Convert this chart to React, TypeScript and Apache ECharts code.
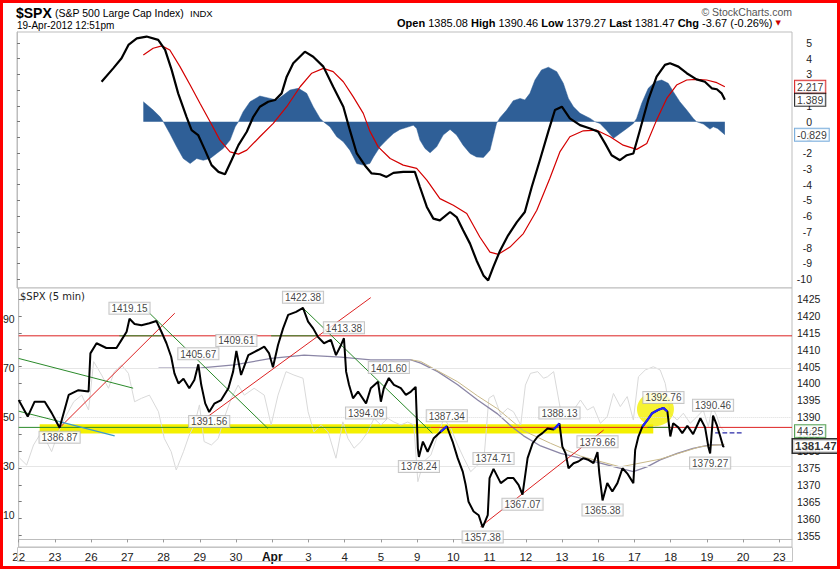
import React, { useEffect, useRef } from "react";
import * as echarts from "echarts";

const SANS = "'Liberation Sans', Arial, sans-serif";
const VERD = "'DejaVu Sans', Verdana, sans-serif";

// x values are trading-day indices (0 = Mar 22)
const DAY_LABELS = ["22", "23", "26", "27", "28", "29", "30", "Apr", "3", "4", "5", "9", "10", "11", "12", "13", "16", "17", "18", "19", "20", "23"];
const X_MAX = 21.35;

const TOP_TICKS = [5, 4, 3, 2, 1, 0, -1, -2, -3, -4, -5, -6, -7, -8, -9, -10];
const PRICE_TICKS = [1355, 1360, 1365, 1370, 1375, 1380, 1385, 1390, 1395, 1400, 1405, 1410, 1415, 1420, 1425];
const RSI_TICKS = [10, 30, 50, 70, 90];

// ---- top panel (MACD-like) ----
const macdLine = [
  [2.33, 2.54], [2.65, 3.39], [2.88, 4.03], [3.07, 4.88], [3.30, 5.30], [3.57, 5.41], [3.89, 5.20], [4.08, 4.56], [4.26, 3.29], [4.44, 1.80], [4.67, 0.31], [4.81, -0.54], [4.99, -0.85], [5.18, -1.81], [5.36, -2.76], [5.55, -3.19], [5.73, -3.34], [5.91, -2.45], [6.10, -1.49], [6.33, -0.64], [6.51, 0.31], [6.69, 0.95], [6.92, 1.27], [7.11, 1.38], [7.29, 1.80], [7.43, 2.86], [7.61, 3.71], [7.93, 4.45], [8.16, 4.13], [8.44, 3.50], [8.71, 2.22], [8.99, 0.95], [9.17, -0.54], [9.36, -2.02], [9.59, -2.80], [9.77, -3.29], [10.00, -3.34], [10.18, -3.51], [10.37, -3.25], [10.64, -3.19], [10.96, -3.19], [11.10, -4.15], [11.29, -5.42], [11.47, -6.16], [11.65, -6.27], [11.93, -5.74], [12.11, -6.06], [12.29, -6.90], [12.48, -7.75], [12.66, -8.82], [12.85, -9.77], [12.98, -10.09], [13.12, -9.24], [13.31, -8.18], [13.53, -7.22], [13.77, -6.38], [13.99, -5.74], [14.18, -4.15], [14.41, -2.40], [14.64, -0.60], [14.82, 0.74], [15.01, 0.95], [15.23, 0.21], [15.51, -0.22], [15.79, -0.43], [16.01, -0.64], [16.20, -1.38], [16.38, -2.13], [16.61, -2.45], [16.80, -2.13], [16.98, -2.02], [17.16, -0.54], [17.39, 1.38], [17.62, 2.86], [17.85, 3.61], [17.99, 3.71], [18.22, 3.50], [18.45, 3.08], [18.72, 2.69], [18.95, 2.54], [19.14, 2.12], [19.28, 2.06], [19.41, 1.80], [19.50, 1.389],
];
const signalLine = [
  [3.48, 4.24], [3.75, 4.67], [3.99, 4.82], [4.21, 4.56], [4.49, 3.50], [4.77, 2.33], [5.04, 1.17], [5.32, 0.0], [5.59, -1.17], [5.87, -1.92], [6.10, -2.06], [6.33, -1.81], [6.69, -0.96], [7.06, -0.11], [7.43, 0.95], [7.80, 2.22], [8.12, 3.08], [8.44, 3.39], [8.71, 3.18], [8.99, 2.54], [9.26, 1.59], [9.54, 0.53], [9.72, -0.60], [9.95, -1.60], [10.28, -2.34], [10.64, -2.76], [11.01, -2.97], [11.29, -3.72], [11.65, -4.89], [12.02, -5.31], [12.39, -5.84], [12.75, -7.33], [13.03, -8.29], [13.26, -8.43], [13.58, -7.97], [13.95, -7.11], [14.32, -5.63], [14.68, -3.60], [14.96, -1.90], [15.23, -0.96], [15.60, -0.58], [15.97, -0.54], [16.34, -0.96], [16.70, -1.49], [17.07, -1.76], [17.35, -1.38], [17.62, 0.10], [17.90, 1.48], [18.17, 2.33], [18.45, 2.65], [18.72, 2.69], [19.00, 2.65], [19.28, 2.48], [19.50, 2.217],
];
const histArea = [
  [3.48, 1.27], [3.75, 0.74], [3.94, 0.31], [4.03, 0], [4.21, -0.75], [4.40, -1.60], [4.58, -2.34], [4.77, -2.66], [4.95, -2.34], [5.13, -2.45], [5.32, -2.34], [5.50, -2.02], [5.68, -1.70], [5.87, -1.17], [6.01, -0.32], [6.10, 0], [6.23, 0.63], [6.42, 1.27], [6.69, 1.63], [6.97, 1.48], [7.15, 1.38], [7.34, 1.69], [7.52, 2.01], [7.75, 2.12], [7.98, 1.80], [8.16, 0.95], [8.35, 0.21], [8.44, 0], [8.62, -0.32], [8.81, -0.96], [8.99, -1.28], [9.17, -1.81], [9.36, -2.66], [9.54, -2.76], [9.72, -2.66], [9.82, -2.24], [10.00, -1.60], [10.18, -1.17], [10.37, -0.75], [10.55, -0.49], [10.74, -0.36], [10.92, -0.22], [11.01, -0.43], [11.10, -1.17], [11.24, -1.70], [11.38, -1.98], [11.56, -1.60], [11.74, -0.85], [11.93, -0.49], [12.11, -0.85], [12.29, -1.49], [12.48, -2.02], [12.66, -2.24], [12.85, -2.27], [13.03, -1.81], [13.12, -0.96], [13.21, -0.11], [13.31, 0.27], [13.49, 0.74], [13.67, 1.33], [13.86, 1.48], [13.99, 1.38], [14.13, 1.80], [14.27, 2.65], [14.45, 3.29], [14.64, 3.46], [14.87, 3.18], [15.05, 2.44], [15.19, 1.48], [15.33, 0.95], [15.51, 0.53], [15.79, 0.21], [15.92, 0], [16.06, -0.11], [16.24, -0.54], [16.43, -1.06], [16.61, -0.75], [16.80, -0.43], [16.98, -0.11], [17.07, 0.21], [17.21, 1.17], [17.39, 2.12], [17.58, 2.54], [17.76, 2.65], [17.94, 2.44], [18.08, 1.91], [18.26, 1.27], [18.45, 0.74], [18.63, 0.21], [18.72, 0], [18.91, -0.15], [19.09, -0.47], [19.18, -0.32], [19.30, -0.43], [19.50, -0.829],
];

// ---- bottom panel ----
const priceLine = [
  [0.00, 1395.1], [0.25, 1390.2], [0.44, 1394.6], [0.72, 1394.6], [0.91, 1391.3], [1.13, 1386.87],
  [1.38, 1396.6], [1.65, 1398.0], [1.93, 1397.6],
  [1.98, 1408.9], [2.15, 1411.9], [2.42, 1410.5], [2.70, 1410.5], [2.84, 1412.9], [2.98, 1415.3], [3.06, 1419.15],
  [3.20, 1417.6], [3.39, 1417.2], [3.61, 1417.8], [3.80, 1418.5], [3.94, 1415.3],
  [4.08, 1411.9], [4.21, 1407.9], [4.30, 1403.0], [4.41, 1400.0], [4.55, 1401.4], [4.71, 1398.6], [4.85, 1401.0], [4.96, 1405.67],
  [5.04, 1399.6], [5.15, 1394.1], [5.26, 1391.56], [5.40, 1394.0], [5.59, 1395.1], [5.79, 1398.6], [5.92, 1403.5], [6.01, 1409.61],
  [6.14, 1402.5], [6.34, 1408.4], [6.61, 1409.9], [6.78, 1410.9], [6.91, 1409.0], [7.02, 1404.8],
  [7.16, 1411.4], [7.30, 1416.3], [7.44, 1420.3], [7.66, 1421.2], [7.85, 1422.38],
  [7.99, 1418.3], [8.13, 1416.3], [8.26, 1413.8], [8.43, 1411.9], [8.62, 1412.9], [8.76, 1408.4], [8.90, 1411.4], [8.98, 1413.38],
  [9.04, 1403.5], [9.12, 1399.6], [9.23, 1395.6], [9.37, 1397.6], [9.59, 1394.09], [9.72, 1398.6], [9.92, 1400.5], [10.00, 1394.6],
  [10.08, 1398.6], [10.22, 1401.6], [10.36, 1399.6], [10.55, 1398.6], [10.69, 1396.6], [10.83, 1397.6], [10.96, 1399.0],
  [11.02, 1380.8], [11.05, 1378.24], [11.16, 1382.8], [11.29, 1379.8], [11.46, 1383.8], [11.65, 1385.7], [11.82, 1387.34],
  [11.98, 1382.8], [12.12, 1377.9], [12.26, 1373.9], [12.34, 1370.0], [12.42, 1365.0], [12.56, 1362.1], [12.70, 1361.0], [12.81, 1357.38], [12.95, 1361.0],
  [13.00, 1372.0], [13.11, 1374.71], [13.31, 1370.5], [13.50, 1372.0], [13.66, 1372.0], [13.80, 1370.0], [13.91, 1367.07],
  [14.05, 1377.9], [14.19, 1382.3], [14.33, 1384.3], [14.46, 1385.3], [14.60, 1386.7], [14.77, 1386.4], [14.93, 1388.13],
  [15.01, 1381.3], [15.10, 1379.3], [15.18, 1374.9], [15.32, 1376.4], [15.45, 1376.9], [15.59, 1377.9], [15.73, 1377.4], [15.87, 1376.4], [15.98, 1379.66],
  [16.03, 1373.4], [16.12, 1365.38], [16.25, 1370.5], [16.39, 1368.0], [16.53, 1370.5], [16.67, 1374.9], [16.80, 1373.4], [16.97, 1370.5],
  [17.02, 1380.3], [17.11, 1384.3], [17.22, 1387.2], [17.36, 1389.2], [17.49, 1391.2], [17.66, 1392.2], [17.80, 1392.76], [17.91, 1391.7],
  [17.99, 1384.3], [18.07, 1388.2], [18.21, 1387.0], [18.32, 1385.3], [18.46, 1387.5], [18.62, 1385.0], [18.82, 1389.7], [18.95, 1387.0],
  [19.04, 1381.3], [19.09, 1379.27], [19.17, 1390.46], [19.28, 1387.5], [19.37, 1384.3], [19.45, 1381.3], [19.48, 1381.47],
];
const rsiLine = [
  [0.03, 33.2], [0.22, 30.4], [0.41, 38.6], [0.58, 42.7], [0.77, 40.0], [0.91, 35.9], [1.10, 44.0], [1.32, 50.9], [1.52, 56.3], [1.74, 59.0], [1.93, 52.9], [2.07, 72.7], [2.29, 67.2], [2.48, 61.8], [2.64, 68.6], [2.84, 71.3], [3.03, 67.9], [3.20, 56.3], [3.39, 57.7], [3.61, 59.0], [3.86, 52.2], [4.02, 41.3], [4.21, 35.9], [4.35, 28.4], [4.55, 35.9], [4.71, 42.7], [4.85, 46.8], [4.99, 55.0], [5.12, 40.0], [5.32, 38.6], [5.51, 41.3], [5.67, 49.5], [5.87, 57.7], [6.06, 63.1], [6.23, 59.0], [6.50, 61.8], [6.78, 59.0], [6.97, 46.8], [7.16, 59.0], [7.38, 68.6], [7.60, 67.2], [7.85, 65.9], [7.99, 52.2], [8.15, 44.0], [8.35, 46.8], [8.54, 44.0], [8.76, 33.2], [8.95, 48.1], [9.09, 41.3], [9.26, 37.3], [9.45, 40.0], [9.64, 44.0], [9.81, 49.5], [10.00, 46.8], [10.19, 49.5], [10.36, 48.0], [10.55, 46.8], [10.74, 48.0], [10.91, 46.8], [11.02, 23.6], [11.18, 31.8], [11.38, 34.5], [11.57, 42.7], [11.74, 49.5], [11.93, 45.4], [12.12, 38.6], [12.29, 33.2], [12.48, 27.7], [12.67, 30.4], [12.84, 31.8], [12.98, 57.7], [13.11, 59.0], [13.31, 50.9], [13.50, 53.6], [13.66, 52.2], [13.86, 46.8], [13.99, 63.1], [14.13, 67.9], [14.33, 68.6], [14.49, 65.9], [14.60, 66.5], [14.77, 68.6], [14.96, 52.9], [15.15, 50.2], [15.32, 52.9], [15.51, 57.0], [15.70, 52.9], [15.87, 54.3], [16.06, 47.5], [16.25, 50.2], [16.42, 59.7], [16.61, 54.3], [16.80, 58.4], [16.97, 48.8], [17.11, 66.5], [17.30, 69.3], [17.52, 70.6], [17.71, 69.3], [17.85, 63.8], [17.99, 51.6], [18.18, 48.8], [18.35, 51.6], [18.54, 47.5], [18.73, 50.2], [18.90, 52.9], [19.04, 46.1], [19.15, 54.3], [19.28, 50.2], [19.37, 46.1], [19.48, 44.25],
];
const maGray = [
  [3.86, 1404.5], [5.04, 1404.6], [5.95, 1405.5], [6.97, 1407.4], [7.88, 1408.4], [8.90, 1407.8], [9.72, 1407.0], [10.83, 1407.0], [11.10, 1406.0], [11.57, 1403.5], [12.12, 1399.6], [12.67, 1395.1], [13.22, 1391.0], [13.58, 1387.5], [13.94, 1384.5], [14.41, 1381.5], [14.96, 1379.3], [15.51, 1377.9], [16.06, 1376.4], [16.61, 1374.9], [16.97, 1373.9], [17.36, 1375.4], [17.71, 1377.4], [18.18, 1379.3], [18.62, 1380.8], [19.09, 1381.8], [19.48, 1381.8],
];
const maTan = [
  [10.83, 1407.0], [11.10, 1406.5], [12.12, 1400.5], [12.67, 1396.3], [13.22, 1392.5], [13.94, 1386.0], [14.68, 1382.3], [15.51, 1378.5], [16.61, 1375.3], [17.71, 1377.6], [18.82, 1381.3], [19.48, 1382.0],
];

const highLabels = [[3.06, 1419.15], [4.96, 1405.67], [6.01, 1409.61], [7.85, 1422.38], [8.98, 1413.38], [10.22, 1401.6], [11.82, 1387.34], [13.11, 1374.71], [14.93, 1388.13], [15.98, 1379.66], [17.8, 1392.76], [19.17, 1390.46]];
const lowLabels = [[1.13, 1386.87], [5.26, 1391.56], [9.59, 1394.09], [11.05, 1378.24], [12.81, 1357.38], [13.91, 1367.07], [16.12, 1365.38], [19.09, 1379.27]];

const greenTrends = [
  [[0, 1407.4], [3.16, 1398.6]],
  [[0, 1391.8], [1.1, 1388.8]],
  [[3.43, 1422.7], [6.88, 1386.7]],
  [[7.84, 1422.4], [11.42, 1385.3]],
  [[0, 1387.0], [11.37, 1387.0]],
];
const redTrends = [
  [[0, 1414.1], [X_MAX, 1414.1]],
  [[11.37, 1387.0], [X_MAX, 1387.0]],
  [[1.13, 1386.87], [4.31, 1420.8]],
  [[4.9, 1387.7], [9.72, 1425.4]],
  [[12.75, 1357.6], [16.15, 1386.2]],
];
const greenOverlays = [
  [[2.78, 1414.1], [3.94, 1414.1]],
  [[6.97, 1414.1], [8.26, 1414.1]],
  [[17.36, 1387.0], [17.99, 1387.0]],
];
const blueTrends = [[[1.1, 1388.8], [2.65, 1384.5]]];
const blueDashed = [[19.23, 1385.4], [19.97, 1385.4]];
const yellowBand = { x0: 0.58, x1: 17.52, y0: 1385.2, y1: 1387.9 };
const yellowSpot = [17.58, 1392.4];
const blueRanges = [[11.6, 11.9], [14.75, 14.95], [17.2, 17.92]];

function seg(data: number[][], color: string, width: number, z: number, type: string = "solid") {
  return {
    type: "line", xAxisIndex: 1, yAxisIndex: 1, data, showSymbol: false, symbol: "none",
    lineStyle: { color, width, type }, z, silent: true, animation: false,
  };
}

function buildOption() {
  const last = (a: number[][]) => a[a.length - 1][1];
  const tagLabel = (border: string, digits: number, bold = false) => ({
    show: true, position: "right", distance: 3,
    formatter: (p: any) => Number(p.value[1]).toFixed(digits),
    fontFamily: SANS, fontSize: bold ? 11.5 : 10.5, fontWeight: bold ? "bold" : "normal", color: "#000",
    backgroundColor: "#fff", borderColor: border, borderWidth: bold ? 1.5 : 1, padding: [1, 2, 0, 2],
  });
  const annot = (data: number[][], pos: string) => ({
    type: "scatter", xAxisIndex: 1, yAxisIndex: 1, symbolSize: 0, z: 20, clip: false,
    data,
    label: {
      show: true, position: pos, distance: pos === "top" ? 5 : 4,
      formatter: (p: any) => Number(p.value[1]).toFixed(2),
      fontFamily: SANS, fontSize: 10, color: "#111",
      backgroundColor: "#fff", borderColor: "#b8b8b8", borderWidth: 1, padding: [1, 2, 0, 2],
    },
  });

  const series: any[] = [
    // top panel
    {
      type: "line", xAxisIndex: 0, yAxisIndex: 0, data: histArea, showSymbol: false, symbol: "none",
      lineStyle: { width: 0.5, color: "#2f5f97" }, areaStyle: { color: "#2f5f97", opacity: 1, origin: 0 }, z: 1,
    },
    { type: "line", xAxisIndex: 0, yAxisIndex: 0, data: signalLine, showSymbol: false, symbol: "none", lineStyle: { color: "#d40000", width: 1.2 }, z: 2 },
    { type: "line", xAxisIndex: 0, yAxisIndex: 0, data: macdLine, showSymbol: false, symbol: "none", lineStyle: { color: "#000", width: 2.2 }, z: 3 },
    {
      type: "scatter", xAxisIndex: 0, yAxisIndex: 0, symbolSize: 0, clip: false, z: 10,
      data: [
        { value: [X_MAX, last(signalLine)], label: tagLabel("#d00000", 3) },
        { value: [X_MAX, last(macdLine)], label: tagLabel("#000000", 3) },
        { value: [X_MAX, last(histArea)], label: tagLabel("#5b9bd5", 3) },
      ],
    },
    // bottom panel
    {
      type: "line", xAxisIndex: 1, yAxisIndex: 2, data: rsiLine, showSymbol: false, symbol: "none",
      lineStyle: { color: "#d9d9d9", width: 1 }, z: 1,
      markLine: {
        silent: true, symbol: "none", label: { show: false },
        data: [
          { yAxis: 70, lineStyle: { color: "#e6e6e6", width: 1, type: "solid" } },
          { yAxis: 30, lineStyle: { color: "#e6e6e6", width: 1, type: "solid" } },
          { yAxis: 50, lineStyle: { color: "#dcdcdc", width: 1, type: "dotted" } },
        ],
      },
    },
    {
      type: "line", xAxisIndex: 1, yAxisIndex: 1, data: [[yellowBand.x0, yellowBand.y0]], showSymbol: false, symbol: "none",
      lineStyle: { opacity: 0 }, z: 2,
      markArea: {
        silent: true, itemStyle: { color: "#f4f000", opacity: 1 },
        data: [[{ xAxis: yellowBand.x0, yAxis: yellowBand.y0 }, { xAxis: yellowBand.x1, yAxis: yellowBand.y1 }]],
      },
    },
    {
      type: "scatter", xAxisIndex: 1, yAxisIndex: 1, data: [yellowSpot], symbol: "circle", symbolSize: [37, 34],
      itemStyle: { color: "#f4f000" }, z: 3, silent: true,
    },
    { type: "line", xAxisIndex: 1, yAxisIndex: 1, data: maGray, showSymbol: false, symbol: "none", lineStyle: { color: "#8b86a6", width: 1.3 }, z: 4 },
    { type: "line", xAxisIndex: 1, yAxisIndex: 1, data: maTan, showSymbol: false, symbol: "none", lineStyle: { color: "#c9b98a", width: 1 }, z: 4 },
    ...redTrends.map((d) => seg(d, "#dd2222", 1, 5)),
    ...greenTrends.map((d) => seg(d, "#2a8a2a", 1, 5)),
    ...blueTrends.map((d) => seg(d, "#3a9ad0", 1.2, 5)),
    ...greenOverlays.map((d) => seg(d, "#2a8a2a", 1, 6)),
    seg(blueDashed, "#2a2aa8", 1.2, 6, "dashed"),
    { type: "line", xAxisIndex: 1, yAxisIndex: 1, data: priceLine, showSymbol: false, symbol: "none", lineStyle: { color: "#000", width: 2 }, z: 8 },
    ...blueRanges.map((r) => ({
      type: "line", xAxisIndex: 1, yAxisIndex: 1,
      data: priceLine.filter((p) => p[0] >= r[0] && p[0] <= r[1]),
      showSymbol: false, symbol: "none", lineStyle: { color: "#2323ff", width: 2.2 }, z: 9,
    })),
    annot(highLabels, "top"),
    annot(lowLabels, "bottom"),
    {
      type: "scatter", xAxisIndex: 1, yAxisIndex: 2, symbolSize: 0, clip: false, z: 10,
      data: [{ value: [X_MAX, last(rsiLine)], label: tagLabel("#2e8b2e", 2) }],
    },
    {
      type: "scatter", xAxisIndex: 1, yAxisIndex: 1, symbolSize: 0, clip: false, z: 10,
      data: [{ value: [X_MAX, last(priceLine)], label: { ...tagLabel("#000000", 2, true), distance: 1 } }],
    },
  ];

  const axisText = { fontFamily: SANS, fontSize: 10.5, color: "#222", formatter: (v: number) => String(v) };

  return {
    animation: false,
    backgroundColor: "#fff",
    grid: [
      { left: 17, right: 48, top: 32, height: 256, show: true, borderColor: "#bdbdbd", borderWidth: 1, backgroundColor: "#fff" },
      { left: 17, right: 48, top: 288, height: 259, show: true, borderColor: "#bdbdbd", borderWidth: 1, backgroundColor: "#fff" },
    ],
    xAxis: [
      {
        gridIndex: 0, type: "value", min: 0, max: X_MAX, interval: 1,
        axisLabel: { show: false }, axisTick: { show: false }, axisLine: { show: false }, splitLine: { show: false },
      },
      {
        gridIndex: 1, type: "value", min: 0, max: X_MAX, interval: 1,
        axisLine: { lineStyle: { color: "#bdbdbd" } },
        axisTick: { show: true, length: 3, inside: false, lineStyle: { color: "#999" } },
        splitLine: { show: false },
        axisLabel: {
          margin: 4, fontFamily: SANS, fontSize: 11.5, color: "#222", showMaxLabel: false,
          formatter: (v: number) => {
            const i = Math.round(v);
            if (Math.abs(v - i) > 1e-6 || i >= DAY_LABELS.length) return "";
            return DAY_LABELS[i] === "Apr" ? "{b|Apr}" : DAY_LABELS[i];
          },
          rich: { b: { fontFamily: SANS, fontSize: 12, fontWeight: "bold", color: "#111" } },
        },
      },
    ],
    yAxis: [
      {
        gridIndex: 0, type: "value", position: "right", min: -10.57, max: 5.7,
        splitLine: { show: false },
        axisLine: { show: true, lineStyle: { color: "#bdbdbd" } },
        axisTick: { show: true, customValues: TOP_TICKS, length: 3, lineStyle: { color: "#777" } },
        axisLabel: { ...axisText, customValues: TOP_TICKS, align: "right", margin: 20 },
      },
      {
        gridIndex: 1, type: "value", position: "right", min: 1351.6, max: 1428.25,
        splitLine: { show: false },
        axisLine: { show: true, lineStyle: { color: "#bdbdbd" } },
        axisTick: { show: true, customValues: PRICE_TICKS, length: 3, lineStyle: { color: "#777" } },
        axisLabel: { ...axisText, customValues: PRICE_TICKS, margin: 5 },
      },
      {
        gridIndex: 1, type: "value", position: "left", min: -3.1, max: 102.8,
        splitLine: { show: false }, axisLine: { show: false }, axisTick: { show: false },
        axisLabel: { ...axisText, customValues: RSI_TICKS, margin: 4 },
      },
    ],
    graphic: [
      { type: "rect", shape: { x: 17.5, y: 547.5, width: 775, height: 14 }, style: { fill: "none", stroke: "#c4c4c4", lineWidth: 1 }, z: 50, silent: true },
      { type: "text", x: 16, y: 12.5, style: { text: "$SPX", font: `bold 14px ${SANS}`, fill: "#000", textVerticalAlign: "middle" }, z: 60 },
      { type: "text", x: 55, y: 13, style: { text: "(S&P 500 Large Cap Index)", font: `10.5px ${SANS}`, fill: "#000", textVerticalAlign: "middle" }, z: 60 },
      { type: "text", x: 190, y: 13, style: { text: "INDX", font: `9.5px ${SANS}`, fill: "#000", textVerticalAlign: "middle" }, z: 60 },
      { type: "text", x: 17, y: 25, style: { text: "19-Apr-2012 12:51pm", font: `10px ${SANS}`, fill: "#000", textVerticalAlign: "middle" }, z: 60 },
      { type: "text", x: 792, y: 12, style: { text: "© StockCharts.com", font: `10.5px ${SANS}`, fill: "#555", textAlign: "right", textVerticalAlign: "middle" }, z: 60 },
      {
        type: "text", x: 397, y: 23,
        style: {
          text: "{b|Open} 1385.08 {b|High} 1390.46 {b|Low} 1379.27 {b|Last} 1381.47 {b|Chg} -3.67 (-0.26%) {r|▼}",
          font: `11px ${SANS}`, fill: "#000", textVerticalAlign: "middle",
          rich: {
            b: { font: `bold 11px ${SANS}`, fill: "#000" },
            r: { font: `7px ${VERD}`, fill: "#cc0000" },
          },
        },
        z: 60,
      },
      { type: "text", x: 20, y: 296, style: { text: "$SPX (5 min)", font: `10px ${VERD}`, fill: "#222", textVerticalAlign: "middle" }, z: 60 },
      { type: "rect", shape: { x: 1.5, y: 1.5, width: 837, height: 566 }, style: { fill: "none", stroke: "#ff0000", lineWidth: 3 }, z: 100, silent: true },
    ],
    series,
  };
}

export default function App() {
  const ref = useRef<HTMLDivElement>(null);
  useEffect(() => {
    if (!ref.current) return;
    const chart = echarts.init(ref.current, null, { renderer: "svg", width: 840, height: 569 });
    chart.setOption(buildOption() as any);
    return () => chart.dispose();
  }, []);
  return <div ref={ref} style={{ position: "fixed", left: 0, top: 0, width: 840, height: 569, background: "#fff" }} />;
}
